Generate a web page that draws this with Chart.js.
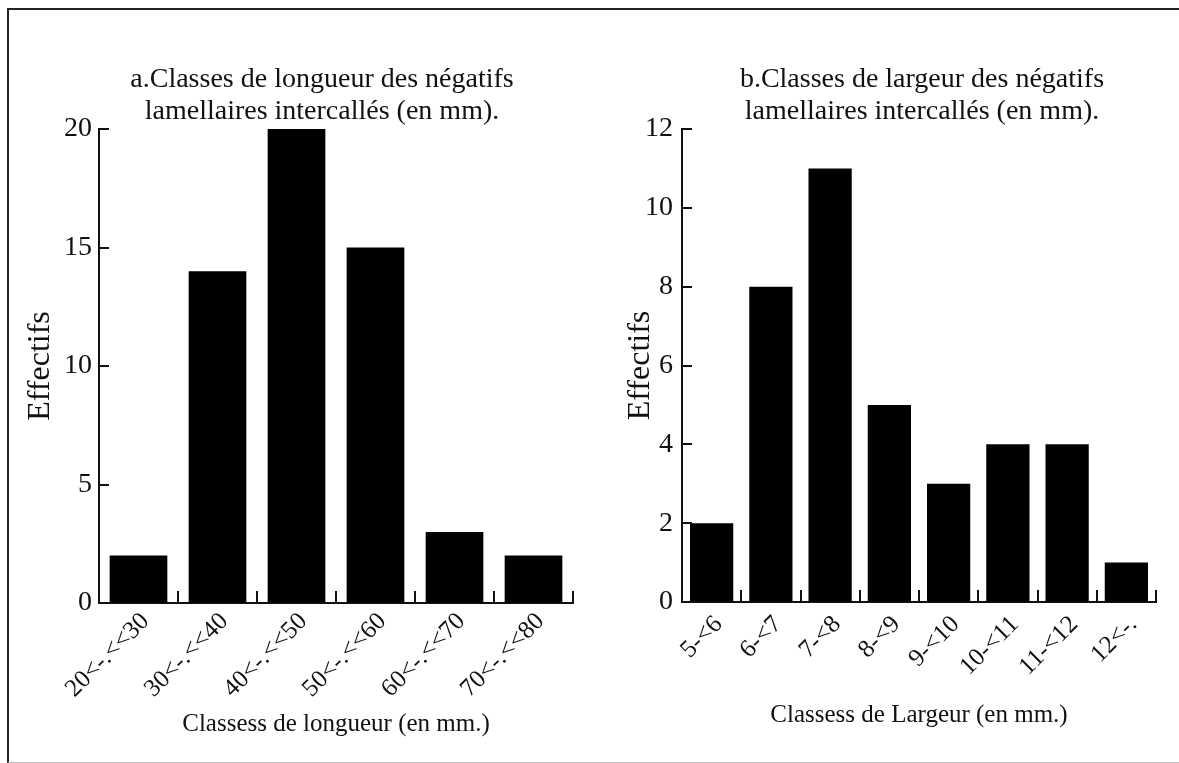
<!DOCTYPE html>
<html>
<head>
<meta charset="utf-8">
<script src="https://cdn.jsdelivr.net/npm/chart.js@4.4.1/dist/chart.umd.min.js"></script>
<style>
    html, body { margin: 0; padding: 0; background: #fff; }
    #frame {
        position: absolute; left: 7px; top: 8px; width: 1180px; height: 752px;
        border-left: 2px solid #222; border-top: 2px solid #222; border-bottom: 1px solid #bbb;
    }
    .box { position: absolute; top: 0; height: 763px; }
    .title {
        position: absolute; top: 62px; width: 600px; margin-left: -300px;
        text-align: center; font: 28px/32px 'Liberation Serif', 'Times New Roman', serif; color: #111;
    }
</style>
</head>
<body>
<div id="frame"></div>
<div class="box" style="left:0;width:590px"><canvas id="chartLongueur"></canvas></div>
<div class="box" style="left:590px;width:589px"><canvas id="chartLargeur"></canvas></div>
<div class="title" id="titleLongueur" style="left:322px"></div>
<div class="title" id="titleLargeur" style="left:922px"></div>

<script>
// --- Data ---
const lengthClasses = ['20<-.<<30', '30<-.<<40', '40<-.<<50', '50<-.<<60', '60<-.<<70', '70<-.<<80'];
const lengthCounts = [2, 14, 20, 15, 3, 2];
const lengthTitle = ['a.Classes de longueur des négatifs', 'lamellaires intercallés (en mm).'];
const lengthAxisTitle = 'Classess de longueur (en mm.)';

const widthClasses = ['5-<6', '6-<7', '7-<8', '8-<9', '9-<10', '10-<11', '11-<12', '12<-.'];
const widthCounts = [2, 8, 11, 5, 3, 4, 4, 1];
const widthTitle = ['b.Classes de largeur des négatifs', 'lamellaires intercallés (en mm).'];
const widthAxisTitle = 'Classess de Largeur (en mm.)';

const yAxisTitle = 'Effectifs';

const SERIF = "'Liberation Serif', 'Times New Roman', serif";

// titres en texte HTML (deux lignes)
function setTitle(id, lines) {
    const el = document.getElementById(id);
    lines.forEach((line, i) => {
        if (i) el.appendChild(document.createElement('br'));
        el.appendChild(document.createTextNode(line));
    });
}
setTitle('titleLongueur', lengthTitle);
setTitle('titleLargeur', widthTitle);

// petites graduations tournées vers l'intérieur
const innerTicks = {
    id: 'innerTicks',
    afterDraw(chart) {
        const ctx = chart.ctx;
        const xs = chart.scales.x;
        const ys = chart.scales.y;
        ctx.save();
        ctx.strokeStyle = '#111';
        ctx.lineWidth = 2;
        ctx.beginPath();
        ys.ticks.forEach((t, i) => {
            const y = Math.round(ys.getPixelForTick(i));
            ctx.moveTo(ys.right, y);
            ctx.lineTo(ys.right + 10, y);
        });
        const n = chart.data.labels.length;
        for (let i = 1; i <= n; i++) {
            const x = Math.round(xs.getPixelForValue(i - 0.5));
            ctx.moveTo(x, xs.top);
            ctx.lineTo(x, xs.top - 12);
        }
        ctx.stroke();
        ctx.restore();
    }
};

function makeChart(id, labels, values, maxY, step, xTitle, opts) {
    return new Chart(document.getElementById(id), {
        type: 'bar',
        data: {
            labels: labels,
            datasets: [{
                data: values,
                backgroundColor: '#000',
                borderWidth: 0,
                barPercentage: 0.73,
                categoryPercentage: 1
            }]
        },
        options: {
            responsive: true,
            maintainAspectRatio: false,
            animation: false,
            layout: { padding: { left: 0, right: opts.padRight, top: 129, bottom: 0 } },
            plugins: {
                legend: { display: false },
                tooltip: { enabled: false },
                title: { display: false }
            },
            scales: {
                x: {
                    grid: { display: true, drawOnChartArea: false, drawTicks: false },
                    border: { display: true, color: '#111', width: 2 },
                    ticks: {
                        color: '#111',
                        font: { family: SERIF, size: 25 },
                        minRotation: 45, maxRotation: 45,
                        padding: opts.labelPad,
                        labelOffset: opts.labelShift,
                        autoSkip: false
                    },
                    title: {
                        display: true,
                        text: xTitle,
                        color: '#111',
                        font: { family: SERIF, size: 25 },
                        padding: { top: 0, bottom: opts.xTitlePad }
                    },
                    afterFit(scale) {
                        scale.height = opts.xHeight;
                        scale.paddingLeft = 0;
                        scale.paddingRight = 0;
                    }
                },
                y: {
                    min: 0, max: maxY,
                    grid: { display: true, drawOnChartArea: false, drawTicks: false },
                    border: { display: true, color: '#111', width: 2 },
                    ticks: {
                        stepSize: step,
                        color: '#111',
                        font: { family: SERIF, size: 28 },
                        padding: opts.tickPad
                    },
                    title: {
                        display: true,
                        text: yAxisTitle,
                        color: '#111',
                        font: { family: SERIF, size: 32 },
                        padding: { top: opts.yTitlePad, bottom: 0 }
                    },
                    afterFit(scale) {
                        scale.width = opts.yWidth;
                        scale.paddingTop = 0;
                        scale.paddingBottom = 0;
                    }
                }
            }
        },
        plugins: [innerTicks]
    });
}

makeChart('chartLongueur', lengthClasses, lengthCounts, 20, 5, lengthAxisTitle,
    { padRight: 17, yWidth: 99, tickPad: 7, yTitlePad: 21, xHeight: 160, xTitlePad: 24, labelPad: 4, labelShift: 7 });
makeChart('chartLargeur', widthClasses, widthCounts, 12, 2, widthAxisTitle,
    { padRight: 23, yWidth: 92, tickPad: 9, yTitlePad: 31, xHeight: 161, xTitlePad: 33, labelPad: 8, labelShift: 7 });
</script>
</body>
</html>
